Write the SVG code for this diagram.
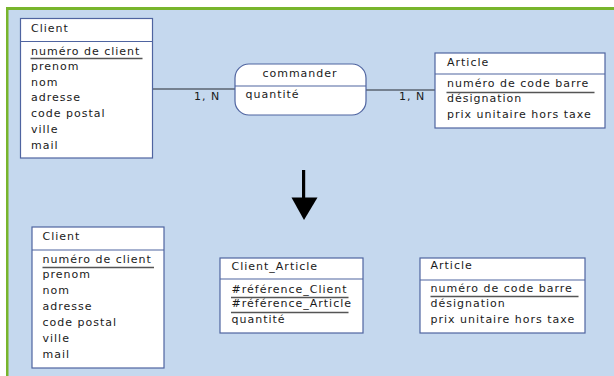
<svg xmlns="http://www.w3.org/2000/svg" width="614" height="376" viewBox="0 0 614 376">
<style>
text{font-family:"DejaVu Sans",sans-serif;font-size:11px;letter-spacing:1px;fill:#1a1a1a}
.box{fill:#fff;stroke:#4f64a0;stroke-width:1.2}
.sep{stroke:#4f64a0;stroke-width:1.2}
.ul{stroke:#555;stroke-width:1.5}
.conn{stroke:#5a6470;stroke-width:1.5;fill:none}
</style>
<rect x="0" y="0" width="614" height="376" fill="#fff"/>
<rect x="6" y="7" width="608" height="369" fill="#78b52c"/>
<rect x="8.5" y="10" width="606" height="366" fill="#c5d8ee"/>

<g id="connectors">
<line class="conn" x1="153" y1="89" x2="235" y2="89"/>
<line class="conn" x1="366" y1="90" x2="435" y2="90"/>
<text x="194" y="99.5">1, N</text>
<text x="399" y="99.5">1, N</text>
<rect x="302" y="170" width="3.2" height="29" fill="#000"/>
<polygon points="291.5,197.5 317.5,197.5 304,220" fill="#000"/>
</g>

<g id="client1">
<rect class="box" x="20.5" y="18.5" width="132" height="139.5"/>
<line class="sep" x1="20.5" y1="41.5" x2="152.5" y2="41.5"/>
<text x="31" y="32">Client</text>
<text x="31" y="54.5">numéro de client</text>
<line class="ul" x1="30.5" y1="58.5" x2="142.5" y2="58.5"/>
<text x="31" y="69.5">prenom</text>
<text x="31" y="85.5">nom</text>
<text x="31" y="101">adresse</text>
<text x="31" y="117">code postal</text>
<text x="31" y="132.5">ville</text>
<text x="31" y="148.5">mail</text>
</g>

<g id="commander">
<rect class="box" x="235" y="64" width="131" height="51" rx="14"/>
<line class="sep" x1="235" y1="86" x2="366" y2="86"/>
<text x="300" y="77" text-anchor="middle">commander</text>
<text x="245.5" y="98">quantité</text>
</g>

<g id="article1">
<rect class="box" x="435" y="53" width="170" height="75"/>
<line class="sep" x1="435" y1="74" x2="605" y2="74"/>
<text x="447" y="65.5">Article</text>
<text x="447" y="86.5">numéro de code barre</text>
<line class="ul" x1="446.5" y1="92.5" x2="594.5" y2="92.5"/>
<text x="447" y="102">désignation</text>
<text x="447" y="117.5">prix unitaire hors taxe</text>
</g>

<g id="client2">
<rect class="box" x="32" y="227" width="132" height="141"/>
<line class="sep" x1="32" y1="250" x2="164" y2="250"/>
<text x="42.5" y="240">Client</text>
<text x="42.5" y="262.5">numéro de client</text>
<line class="ul" x1="42.5" y1="267.5" x2="154" y2="267.5"/>
<text x="42.5" y="278">prenom</text>
<text x="42.5" y="294">nom</text>
<text x="42.5" y="310">adresse</text>
<text x="42.5" y="326">code postal</text>
<text x="42.5" y="341.5">ville</text>
<text x="42.5" y="357.5">mail</text>
</g>

<g id="client_article">
<rect class="box" x="220" y="258" width="143" height="75"/>
<line class="sep" x1="220" y1="279" x2="363" y2="279"/>
<text x="231.5" y="270">Client_Article</text>
<text x="231.5" y="292.5">#référence_Client</text>
<line class="ul" x1="231" y1="297.5" x2="348.5" y2="297.5"/>
<text x="231.5" y="306.5">#référence_Article</text>
<line class="ul" x1="231" y1="312.5" x2="348.5" y2="312.5"/>
<text x="231.5" y="323">quantité</text>
</g>

<g id="article2">
<rect class="box" x="420" y="258" width="165" height="75"/>
<line class="sep" x1="420" y1="280" x2="585" y2="280"/>
<text x="430.5" y="268.5">Article</text>
<text x="430.5" y="292">numéro de code barre</text>
<line class="ul" x1="430.5" y1="296.5" x2="578.5" y2="296.5"/>
<text x="430.5" y="306.5">désignation</text>
<text x="430.5" y="322.5">prix unitaire hors taxe</text>
</g>
</svg>
